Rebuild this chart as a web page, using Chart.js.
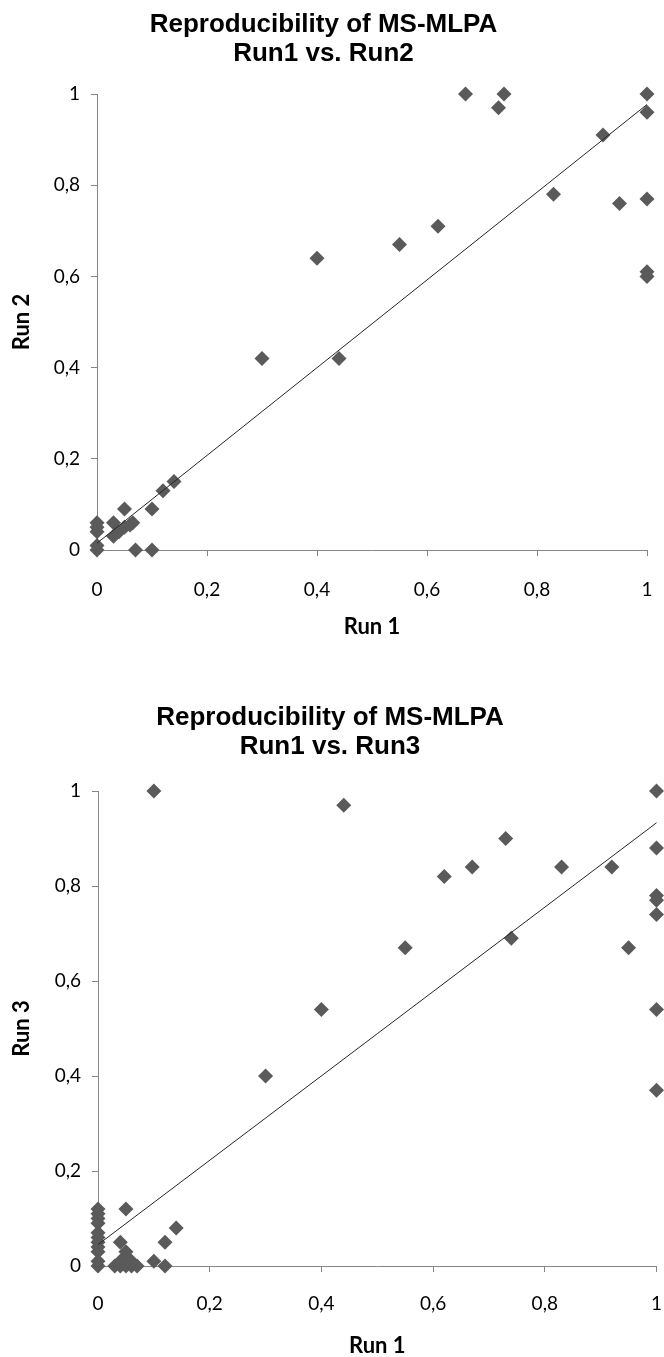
<!DOCTYPE html>
<html>
<head>
<meta charset="utf-8">
<script src="https://cdn.jsdelivr.net/npm/chart.js@4.4.1/dist/chart.umd.min.js"></script>
<style>
  html, body { margin: 0; padding: 0; background: #fff; }
  canvas { position: absolute; left: 0; }
  #chart-a { top: 0; }
  #chart-b { top: 660px; }
</style>
</head>
<body>
<canvas id="chart-a" width="664" height="660"></canvas>
<canvas id="chart-b" width="664" height="697"></canvas>
<script>
// tick labels (decimal comma, as in the original)
const tickLabels = ['0', '0,2', '0,4', '0,6', '0,8', '1'];

// Run1 vs. Run2
const run1A = [0, 0, 0, 0, 0, 0.03, 0.03, 0.04, 0.05, 0.06, 0.065, 0.05, 0.07, 0.10, 0.10, 0.12, 0.14,
  0.30, 0.40, 0.44, 0.55, 0.62, 0.67, 0.73, 0.74, 0.83, 0.92, 0.95, 1, 1, 1, 1, 1];
const run2A = [0, 0.01, 0.04, 0.05, 0.06, 0.03, 0.06, 0.04, 0.05, 0.055, 0.06, 0.09, 0, 0, 0.09, 0.13, 0.15,
  0.42, 0.64, 0.42, 0.67, 0.71, 1.00, 0.97, 1.00, 0.78, 0.91, 0.76, 1, 0.96, 0.77, 0.61, 0.60];
const trendXA = [0, 1];
const trendYA = [0.015, 0.977];

// Run1 vs. Run3
const run1B = [0, 0, 0, 0, 0, 0, 0, 0, 0, 0, 0,
  0.03, 0.04, 0.05, 0.06, 0.07, 0.04, 0.06, 0.05, 0.05, 0.04, 0.05, 0.10, 0.12, 0.12, 0.14,
  0.30, 0.40, 0.44, 0.55, 0.62, 0.67, 0.73, 0.74, 0.83, 0.92, 0.95, 0.10,
  1, 1, 1, 1, 1, 1, 1];
const run3B = [0, 0.01, 0.03, 0.04, 0.05, 0.06, 0.07, 0.09, 0.10, 0.11, 0.12,
  0, 0, 0, 0, 0, 0.01, 0.01, 0.02, 0.03, 0.05, 0.12, 0.01, 0, 0.05, 0.08,
  0.40, 0.54, 0.97, 0.67, 0.82, 0.84, 0.90, 0.69, 0.84, 0.84, 0.67, 1.00,
  1, 0.88, 0.78, 0.77, 0.74, 0.54, 0.37];
const trendXB = [0, 1];
const trendYB = [0.045, 0.933];

const markColor = '#5a5a5a';
const axisColor = '#868686';

function toPoints(xs, ys) {
  return xs.map((x, i) => ({ x: x, y: ys[i] }));
}

function makeChart(id, s) {
  const ctx = document.getElementById(id).getContext('2d');
  return new Chart(ctx, {
    type: 'scatter',
    data: {
      datasets: [{
        // trend line, drawn on top of the markers
        data: toPoints(s.trendX, s.trendY),
        showLine: true,
        borderColor: '#262626',
        borderWidth: 1,
        pointRadius: 0,
        clip: false
      }, {
        data: toPoints(s.xs, s.ys),
        pointStyle: 'rectRot',
        pointRadius: 7.5,
        backgroundColor: markColor,
        borderColor: markColor,
        borderWidth: 0,
        clip: false
      }]
    },
    options: {
      responsive: false,
      animation: false,
      events: [],
      layout: { padding: { left: 0, right: s.padRight, top: 0, bottom: 0 } },
      plugins: {
        legend: { display: false },
        tooltip: { enabled: false },
        title: {
          display: true,
          text: s.title,
          color: '#000',
          font: { family: 'Liberation Sans', size: 26, weight: 'bold', lineHeight: 29 / 26 },
          padding: { top: s.titleTop, bottom: s.titleBottom }
        }
      },
      scales: {
        x: {
          type: 'linear',
          min: 0, max: 1,
          ticks: {
            stepSize: 0.2,
            padding: s.xTickPad,
            color: '#000',
            font: { family: 'Lato', size: 19 },
            callback: (v, i) => tickLabels[i]
          },
          grid: { drawOnChartArea: false, color: axisColor, tickLength: 6 },
          border: { color: axisColor },
          title: {
            display: true,
            text: 'Run 1',
            color: '#000',
            font: { family: 'Lato', size: 22, weight: 'bold', lineHeight: 1 },
            padding: { top: 0, bottom: s.xTitleBottom }
          },
          afterFit: sc => {
            sc.height = s.xHeight;
            sc.paddingLeft = 0;
            sc.paddingRight = 0;
          }
        },
        y: {
          type: 'linear',
          min: 0, max: 1,
          ticks: {
            stepSize: 0.2,
            padding: 11,
            color: '#000',
            font: { family: 'Lato', size: 19 },
            callback: (v, i) => tickLabels[i]
          },
          grid: { drawOnChartArea: false, color: axisColor, tickLength: 6 },
          border: { color: axisColor },
          title: {
            display: true,
            text: s.yTitle,
            color: '#000',
            font: { family: 'Lato', size: 22, weight: 'bold', lineHeight: 1 },
            padding: { top: 11, bottom: 0 }
          },
          afterFit: sc => {
            sc.width = s.yWidth;
            sc.paddingTop = 0;
            sc.paddingBottom = 0;
          }
        }
      }
    }
  });
}

makeChart('chart-a', {
  title: ['Reproducibility of MS-MLPA', 'Run1 vs. Run2'],
  yTitle: 'Run 2',
  xs: run1A, ys: run2A, trendX: trendXA, trendY: trendYA,
  titleTop: 10, titleBottom: 26,
  padRight: 17, yWidth: 97, xHeight: 110,
  xTickPad: 22, xTitleBottom: 22
});

makeChart('chart-b', {
  title: ['Reproducibility of MS-MLPA', 'Run1 vs. Run3'],
  yTitle: 'Run 3',
  xs: run1B, ys: run3B, trendX: trendXB, trendY: trendYB,
  titleTop: 43, titleBottom: 30,
  padRight: 4, yWidth: 98, xHeight: 91,
  xTickPad: 20, xTitleBottom: 0
});
</script>
</body>
</html>
